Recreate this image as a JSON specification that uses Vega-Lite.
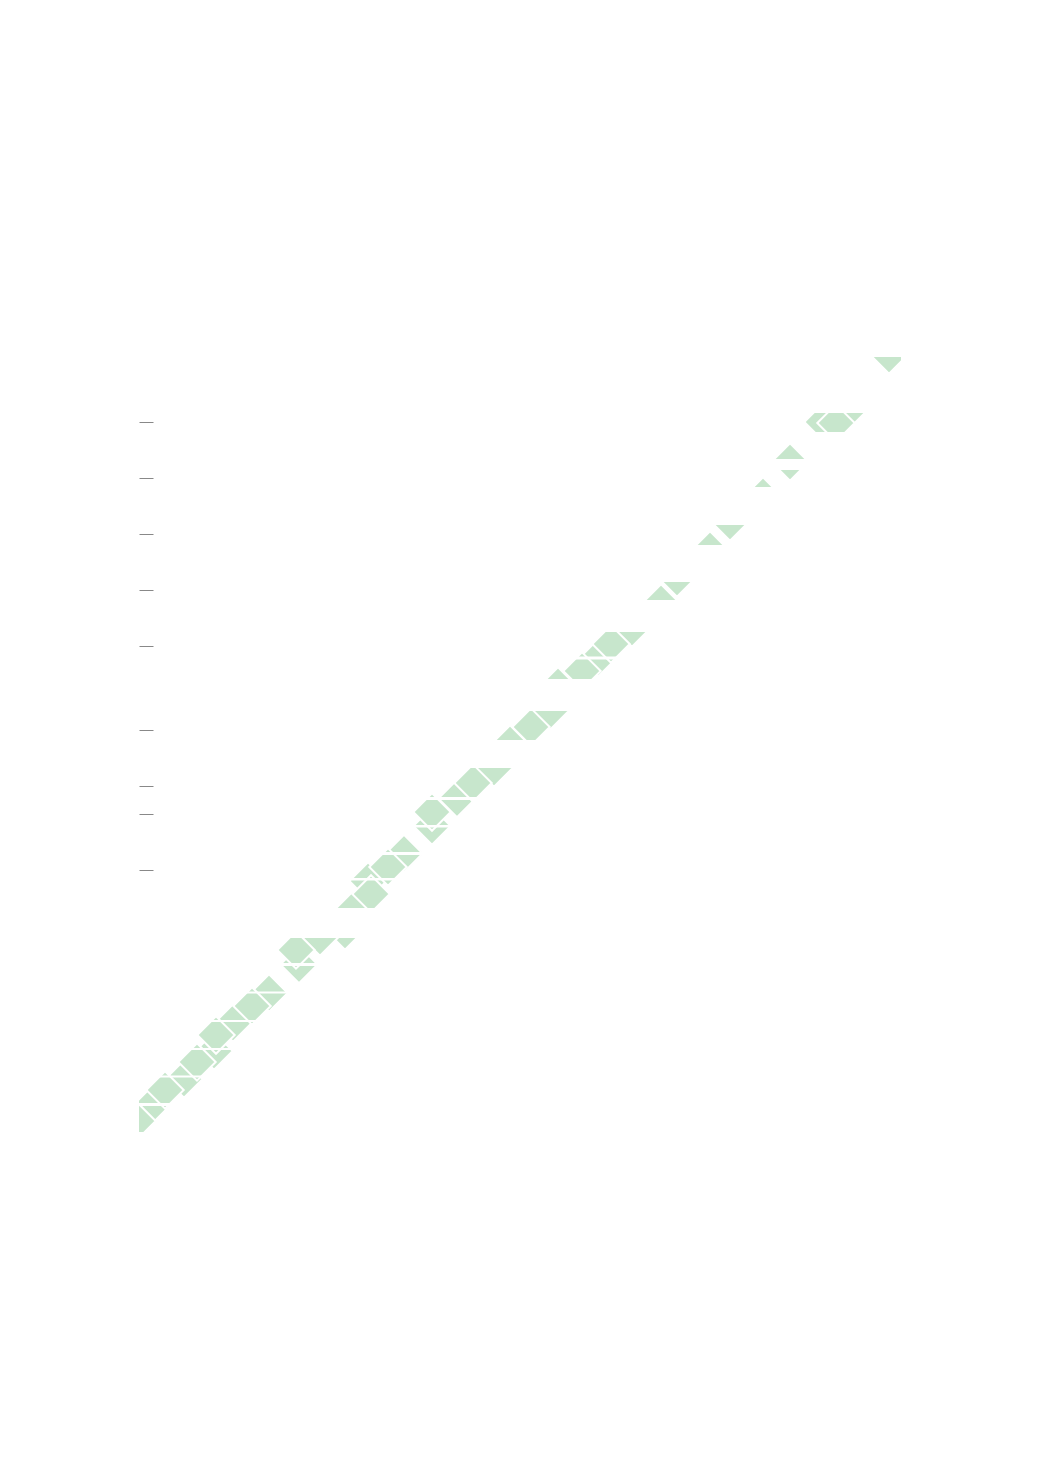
{
  "$schema": "https://vega.github.io/schema/vega-lite/v6.json",
  "description": "Diagonal band of diamond cells, cut into rows.",
  "width": 762,
  "height": 784,
  "autosize": {"type": "none"},
  "padding": {"left": 139, "top": 352, "right": 139, "bottom": 335},
  "background": "white",
  "config": {"view": {"stroke": null}},
  "datasets": {
    "diamonds": [
      {"x": 0.393, "y": 26.964, "kind": "boundary"},
      {"x": 1.607, "y": 25.964, "kind": "boundary"},
      {"x": 2.679, "y": 24.964, "kind": "boundary"},
      {"x": 3.357, "y": 23.964, "kind": "boundary"},
      {"x": 4.643, "y": 22.893, "kind": "boundary"},
      {"x": 5.714, "y": 21.875, "kind": "boundary"},
      {"x": 7.357, "y": 20.679, "kind": "boundary"},
      {"x": 6.464, "y": 20.893, "kind": "boundary"},
      {"x": 7.643, "y": 19.929, "kind": "boundary"},
      {"x": 8.179, "y": 18.893, "kind": "boundary"},
      {"x": 9.464, "y": 17.911, "kind": "boundary"},
      {"x": 10.464, "y": 16.929, "kind": "boundary"},
      {"x": 11.357, "y": 15.946, "kind": "boundary"},
      {"x": 12.679, "y": 14.857, "kind": "boundary"},
      {"x": 13.25, "y": 14.0, "kind": "boundary"},
      {"x": 14.679, "y": 12.821, "kind": "boundary"},
      {"x": 14.964, "y": 11.929, "kind": "boundary"},
      {"x": 16.393, "y": 10.929, "kind": "boundary"},
      {"x": 17.607, "y": 9.857, "kind": "boundary"},
      {"x": 18.643, "y": 8.964, "kind": "boundary"},
      {"x": 19.214, "y": 8.071, "kind": "boundary"},
      {"x": 20.393, "y": 7.071, "kind": "boundary"},
      {"x": 21.107, "y": 6.071, "kind": "boundary"},
      {"x": 22.286, "y": 5.143, "kind": "boundary"},
      {"x": 23.25, "y": 3.929, "kind": "boundary"},
      {"x": 25.357, "y": 2.071, "kind": "boundary"},
      {"x": 26.786, "y": 0.107, "kind": "boundary"},
      {"x": -0.071, "y": 27.464, "kind": "center"},
      {"x": 0.929, "y": 26.357, "kind": "center"},
      {"x": 2.071, "y": 25.357, "kind": "center"},
      {"x": 2.75, "y": 24.393, "kind": "center"},
      {"x": 4.036, "y": 23.357, "kind": "center"},
      {"x": 5.607, "y": 21.357, "kind": "center"},
      {"x": 8.286, "y": 19.357, "kind": "center"},
      {"x": 8.893, "y": 18.393, "kind": "center"},
      {"x": 10.464, "y": 16.429, "kind": "center"},
      {"x": 11.929, "y": 15.393, "kind": "center"},
      {"x": 14.0, "y": 13.393, "kind": "center"},
      {"x": 15.821, "y": 11.393, "kind": "center"},
      {"x": 16.857, "y": 10.429, "kind": "center"},
      {"x": 24.429, "y": 2.5, "kind": "center"},
      {"x": 24.893, "y": 2.536, "kind": "center"}
    ],
    "gaps": [
      {"y1": 0, "y2": 0.18},
      {"y1": 0.857, "y2": 2.179},
      {"y1": 2.857, "y2": 3.214},
      {"y1": 3.821, "y2": 4.214},
      {"y1": 4.821, "y2": 6.179},
      {"y1": 6.893, "y2": 8.214},
      {"y1": 8.857, "y2": 10.0},
      {"y1": 10.875, "y2": 10.982},
      {"y1": 11.679, "y2": 12.821},
      {"y1": 13.857, "y2": 14.857},
      {"y1": 15.893, "y2": 16.0},
      {"y1": 16.893, "y2": 16.982},
      {"y1": 17.857, "y2": 17.964},
      {"y1": 18.786, "y2": 18.875},
      {"y1": 19.857, "y2": 20.929},
      {"y1": 21.821, "y2": 21.929},
      {"y1": 22.839, "y2": 22.911},
      {"y1": 23.857, "y2": 23.929},
      {"y1": 24.857, "y2": 24.929},
      {"y1": 25.839, "y2": 25.911},
      {"y1": 26.821, "y2": 26.929},
      {"y1": 27.857, "y2": 28.0}
    ]
  },
  "layer": [
    {
      "data": {"name": "diamonds"},
      "mark": {
        "type": "point",
        "shape": "diamond",
        "filled": true,
        "size": 1400,
        "fill": "#c7e6cc",
        "stroke": "white",
        "strokeWidth": 2,
        "opacity": 1,
        "clip": true
      },
      "encoding": {
        "x": {
          "field": "x",
          "type": "quantitative",
          "scale": {"domain": [0, 27.214], "nice": false, "zero": false},
          "axis": null
        },
        "y": {
          "field": "y",
          "type": "quantitative",
          "scale": {"domain": [0, 28], "nice": false, "zero": false, "reverse": true},
          "axis": {
            "values": [2.5, 4.5, 6.5, 8.5, 10.5, 13.5, 15.5, 16.5, 18.5],
            "labels": false,
            "domain": false,
            "grid": false,
            "ticks": true,
            "tickSize": 14,
            "tickColor": "#888",
            "tickWidth": 1,
            "offset": -14,
            "title": null,
            "zindex": 1
          }
        }
      }
    },
    {
      "data": {"name": "gaps"},
      "mark": {"type": "rect", "color": "white"},
      "encoding": {
        "y": {"field": "y1", "type": "quantitative"},
        "y2": {"field": "y2"}
      }
    }
  ]
}
